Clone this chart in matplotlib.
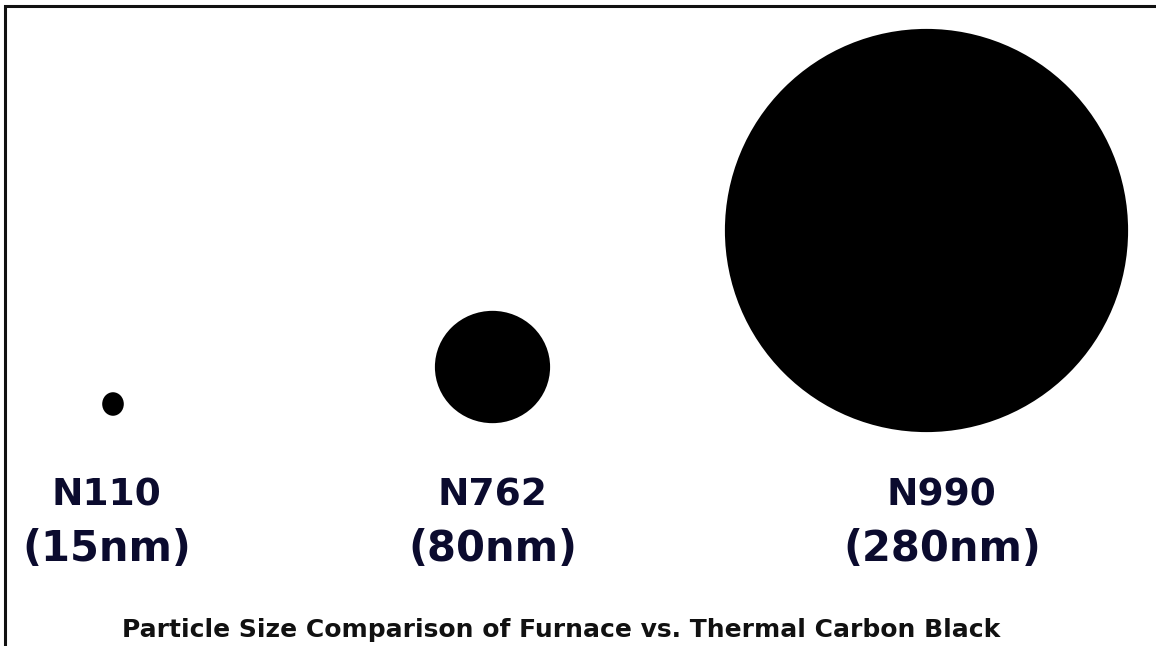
import matplotlib
matplotlib.use('Agg')
import matplotlib.pyplot as plt
from matplotlib.patches import Ellipse

# data
grades = ['N110', 'N762', 'N990']
diameters_nm = [15, 80, 280]
title = 'Particle Size Comparison of Furnace vs. Thermal Carbon Black'

# layout (pixel coords, y down)
W, H = 1156, 646
px_per_nm = 1.44
centers_x = [113, 492.5, 926.5]
centers_y = [404, 367, 230.5]
label_x = [106, 492, 941]
text_color = '#0b0b2e'

fig = plt.figure(figsize=(W / 100, H / 100), dpi=100)
ax = fig.add_axes([0, 0, 1, 1])
ax.set_xlim(0, W)
ax.set_ylim(H, 0)
ax.axis('off')

# frame: top and left only
ax.plot([5, 5, W], [H, 6, 6], color='#111111', lw=2.2, solid_joinstyle='miter')

for g, d, cx, cy, lx in zip(grades, diameters_nm, centers_x, centers_y, label_x):
    w = d * px_per_nm
    h = w * (1.09 if d < 20 else 0.975 if d < 100 else 1.0)
    ax.add_patch(Ellipse((cx, cy), w, h, color='black', lw=0))
    ax.text(lx, 496, g, ha='center', va='center', fontsize=27,
            fontweight='bold', color=text_color)
    ax.text(lx + 1, 549, f'({d}nm)', ha='center', va='center', fontsize=30,
            fontweight='bold', color=text_color)

ax.text(561, 630, title, ha='center', va='center', fontsize=18,
        fontweight='bold', color='#111111')

fig.savefig('out.png', dpi=100)
